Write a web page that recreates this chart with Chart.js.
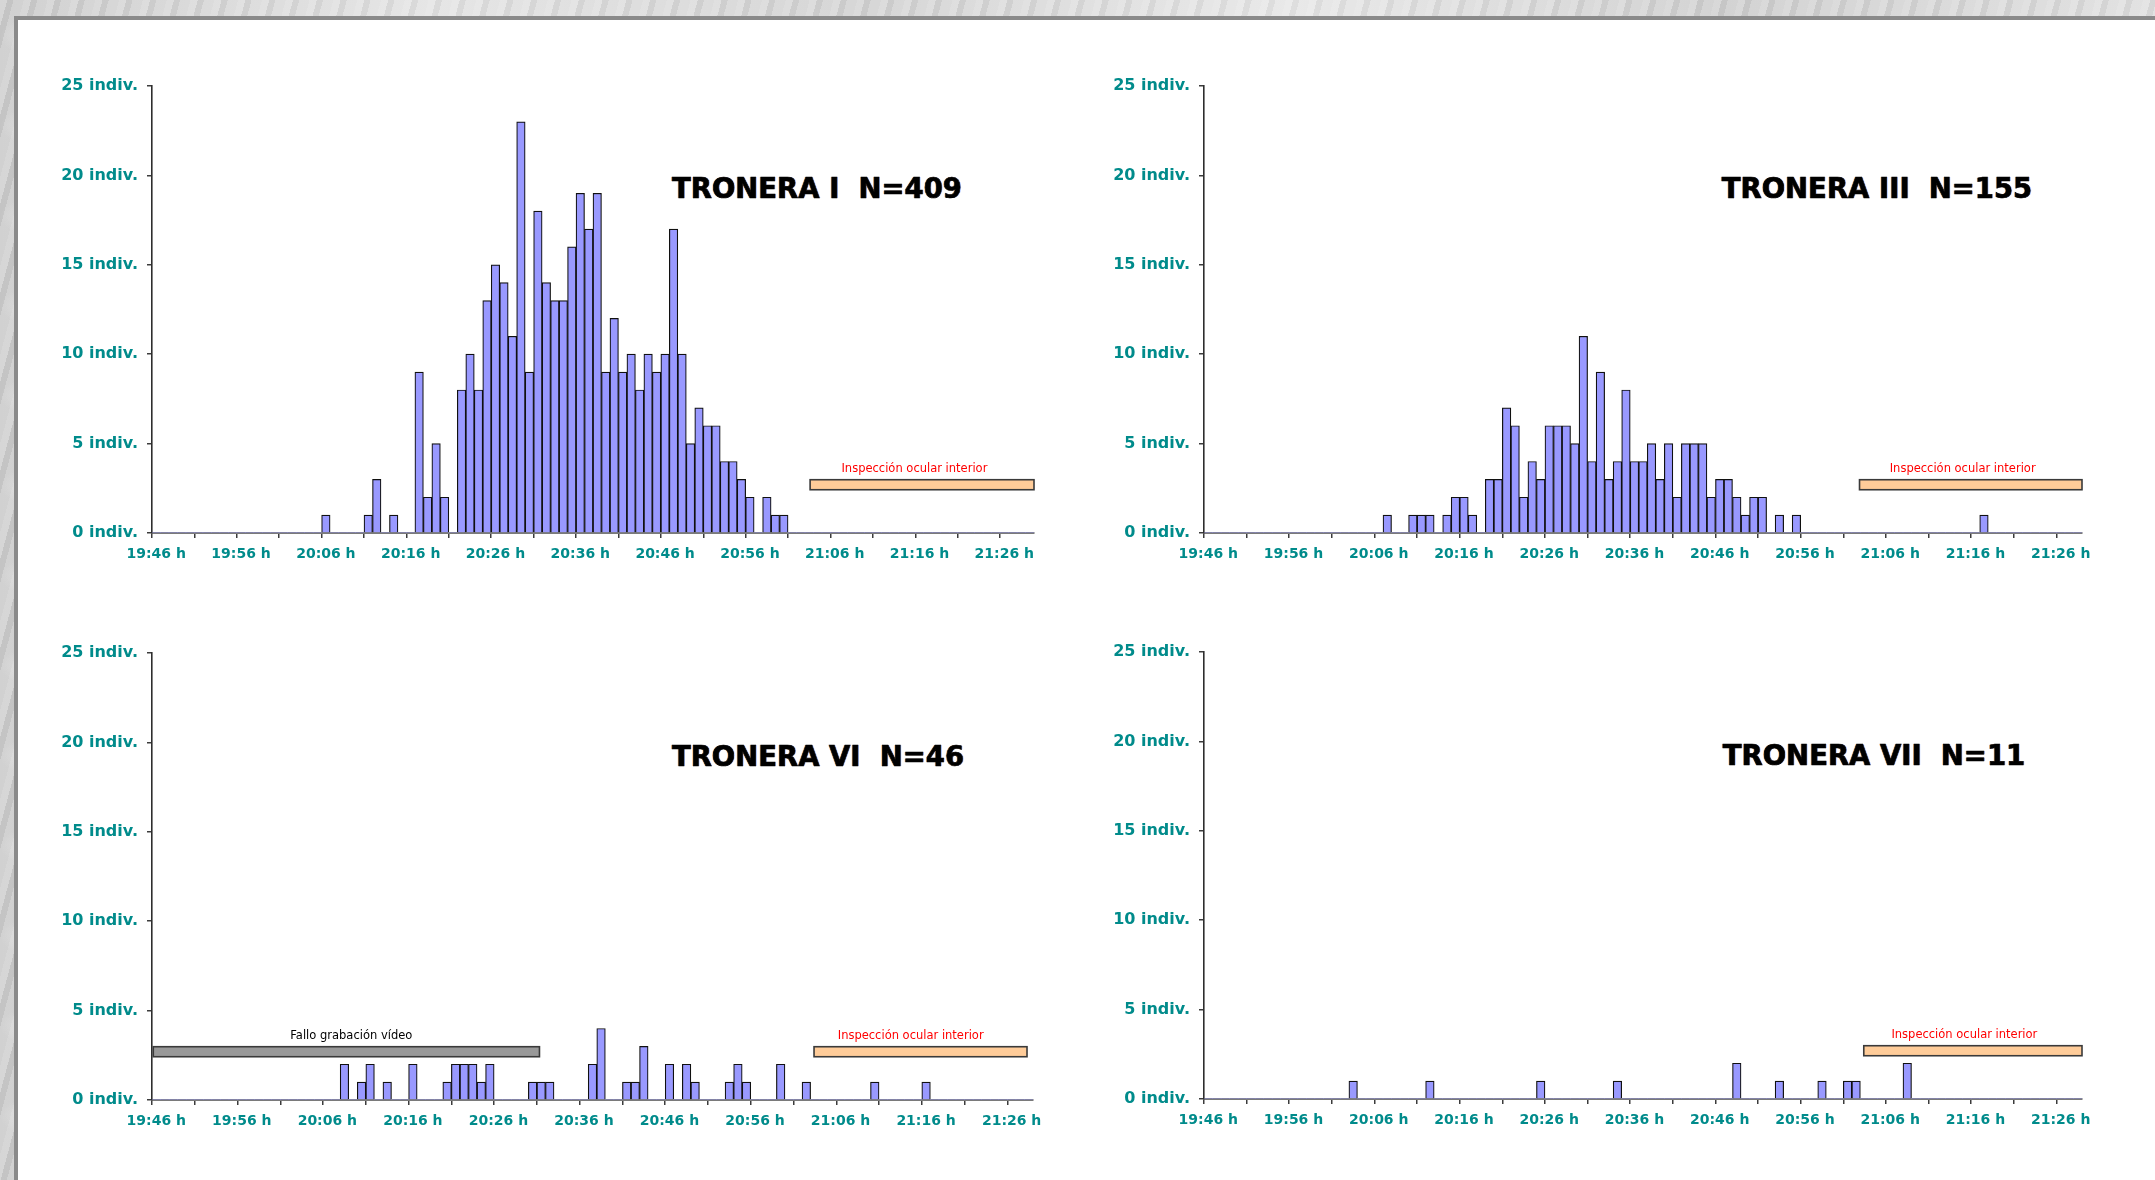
<!DOCTYPE html>
<html>
<head>
<meta charset="utf-8">
<script src="https://cdn.jsdelivr.net/npm/chart.js@4.4.1/dist/chart.umd.min.js"></script>
<style>
  html, body { margin:0; padding:0; width:2155px; height:1180px; overflow:hidden; }
  body {
    background-color:#d6d6d6;
    background-image:
      radial-gradient(ellipse 60px 30px at 30% 40%, rgba(255,255,255,0.45), transparent 70%),
      radial-gradient(ellipse 90px 20px at 70% 60%, rgba(0,0,0,0.07), transparent 70%),
      repeating-linear-gradient(105deg, rgba(255,255,255,0.22) 0 7px, rgba(0,0,0,0.035) 7px 13px, rgba(255,255,255,0.12) 13px 23px),
      linear-gradient(90deg,#cbcbcb,#e2e2e2 20%,#d1d1d1 40%,#e6e6e6 60%,#cdcdcd 80%,#dedede);
    background-size: 140px 90px, 180px 70px, auto, auto;
  }
  #panel { position:absolute; left:14px; top:16px; width:2300px; height:1300px; background:#fff; border:4px solid #8a8a8a; box-sizing:border-box; }
  .box { position:absolute; }
  .title { position:absolute; font-family:'DejaVu Sans'; font-weight:bold; font-size:27.5px; line-height:27.5px;
           color:#000; white-space:pre; transform:translate(-50%,-50%);
           -webkit-text-stroke:0.6px #000;
           text-shadow:-1px 0 0 rgba(255,150,40,0.55), 1px 0 0 rgba(60,120,255,0.45); }
</style>
</head>
<body>
<div id="panel"></div>

<div class="box" style="left:2px;top:66px;"><canvas id="c1" width="1042" height="507"></canvas></div>
<div class="box" style="left:1054px;top:66px;"><canvas id="c2" width="1038" height="507"></canvas></div>
<div class="box" style="left:2px;top:633px;"><canvas id="c3" width="1041" height="507"></canvas></div>
<div class="box" style="left:1054px;top:632px;"><canvas id="c4" width="1038" height="507"></canvas></div>

<div class="title" style="left:817px;top:189px;">TRONERA I  N=409</div>
<div class="title" style="left:1877px;top:189px;">TRONERA III  N=155</div>
<div class="title" style="left:818px;top:757px;">TRONERA VI  N=46</div>
<div class="title" style="left:1874px;top:756px;">TRONERA VII  N=11</div>

<script>
// ---------- DATA (one value per minute, starting 19:46) ----------
const startTime = '19:46';
const yTicks = [0, 5, 10, 15, 20, 25];
const yUnit = ' indiv.';

const troneraI = [
  0,0,0,0,0,0,0,0,0,0,
  0,0,0,0,0,0,0,0,0,0,
  1,0,0,0,0,1,3,0,1,0,
  0,9,2,5,2,0,8,10,8,13,
  15,14,11,23,9,18,14,13,13,16,
  19,17,19,9,12,9,10,8,10,9,
  10,17,10,5,7,6,6,4,4,3,
  2,0,2,1,1,0,0,0,0,0,
  0,0,0,0,0,0,0,0,0,0,
  0,0,0,0,0,0,0,0,0,0,
  0,0,0,0
];
const troneraIII = [
  0,0,0,0,0,0,0,0,0,0,
  0,0,0,0,0,0,0,0,0,0,
  0,1,0,0,1,1,1,0,1,2,
  2,1,0,3,3,7,6,2,4,3,
  6,6,6,5,11,4,9,3,4,8,
  4,4,5,3,5,2,5,5,5,2,
  3,3,2,1,2,2,0,1,0,1,
  0,0,0,0,0,0,0,0,0,0,
  0,0,0,0,0,0,0,0,0,0,
  0,1,0,0,0,0,0,0,0,0,
  0,0,0
];
const troneraVI = [
  0,0,0,0,0,0,0,0,0,0,
  0,0,0,0,0,0,0,0,0,0,
  0,0,2,0,1,2,0,1,0,0,
  2,0,0,0,1,2,2,2,1,2,
  0,0,0,0,1,1,1,0,0,0,
  0,2,4,0,0,1,1,3,0,0,
  2,0,2,1,0,0,0,1,2,1,
  0,0,0,2,0,0,1,0,0,0,
  0,0,0,0,1,0,0,0,0,0,
  1,0,0,0,0,0,0,0,0,0,
  0,0,0
];
const troneraVII = [
  0,0,0,0,0,0,0,0,0,0,
  0,0,0,0,0,0,0,1,0,0,
  0,0,0,0,0,0,1,0,0,0,
  0,0,0,0,0,0,0,0,0,1,
  0,0,0,0,0,0,0,0,1,0,
  0,0,0,0,0,0,0,0,0,0,
  0,0,2,0,0,0,0,1,0,0,
  0,0,1,0,0,1,1,0,0,0,
  0,0,2,0,0,0,0,0,0,0,
  0,0,0,0,0,0,0,0,0,0,
  0,0,0
];

// Bands, in minutes from 19:46 (left edge of the axis) and in individuals
const inspeccionLabel = 'Inspección ocular interior';
const falloLabel = 'Fallo grabación vídeo';
const inspeccionFrom = [77.6, 76.9, 77.4, 77.4];
const inspeccionTo   = [104, 103, 102.3, 103];
const inspeccionTextAt = [89.9, 89.0, 88.7, 89.2];
const falloFrom = 0.15, falloTo = 45.3, falloTextAt = 23.3;
const bandLow = 2.42, bandHigh = 2.98, bandTextY = 3.6;

// ---------- helpers ----------
function timeLabels(n) {
  const [h0, m0] = startTime.split(':').map(Number);
  const out = [];
  for (let k = 0; k < n; k++) {
    const t = h0 * 60 + m0 + k;
    const h = Math.floor(t / 60), m = t % 60;
    out.push(h + ':' + String(m).padStart(2, '0') + ' h');
  }
  return out;
}

const TEAL = '#008b8b';
const FONT = 'DejaVu Sans';

const bandPlugin = {
  id: 'bands',
  afterDatasetsDraw(chart, args, opts) {
    const { ctx } = chart;
    const x = chart.scales.x, y = chart.scales.y;
    (opts.items || []).forEach(b => {
      const x1 = x.getPixelForValue(b.from - 0.5);
      const x2 = x.getPixelForValue(b.to - 0.5);
      const y1 = y.getPixelForValue(b.hi);
      const y2 = y.getPixelForValue(b.lo);
      ctx.save();
      ctx.fillStyle = b.fill;
      ctx.fillRect(x1, y1, x2 - x1, y2 - y1);
      ctx.strokeStyle = '#3a3a3a';
      ctx.lineWidth = 1.6;
      ctx.strokeRect(x1, y1, x2 - x1, y2 - y1);
      ctx.font = '11.5px "' + FONT + '"';
      ctx.fillStyle = b.textColor;
      ctx.textAlign = 'center';
      ctx.textBaseline = 'middle';
      ctx.fillText(b.text, x.getPixelForValue(b.textAt - 0.5), y.getPixelForValue(b.textY));
      ctx.restore();
    });
  }
};

function makeChart(id, values, bands) {
  const labels = timeLabels(values.length);
  return new Chart(document.getElementById(id), {
    type: 'bar',
    data: {
      labels: labels,
      datasets: [{
        data: values,
        backgroundColor: '#9999ff',
        borderColor: '#101010',
        borderWidth: c => (c.raw > 0 ? 1.2 : 0),
        borderSkipped: 'start',
        barPercentage: 1,
        categoryPercentage: 1
      }]
    },
    options: {
      responsive: false,
      devicePixelRatio: 1,
      animation: false,
      events: [],
      layout: { padding: { top: 20, right: 10, left: 0, bottom: 0 } },
      plugins: {
        legend: { display: false },
        title: { display: false },
        tooltip: { enabled: false },
        bands: { items: bands }
      },
      scales: {
        x: {
          type: 'category',
          offset: true,
          afterFit: s => { s.height = 40; s.paddingLeft = 0; s.paddingRight = 0; },
          border: { display: true, color: '#7a7a7a', width: 2 },
          grid: {
            offset: true,
            drawOnChartArea: false,
            drawTicks: true,
            tickLength: 5,
            lineWidth: 1.5,
            color: c => (c.index !== undefined && c.index % 5 === 0 ? '#3c3c3c' : 'rgba(0,0,0,0)'),
            tickColor: c => (c.index !== undefined && c.index % 5 === 0 ? '#3c3c3c' : 'rgba(0,0,0,0)')
          },
          ticks: {
            autoSkip: false,
            maxRotation: 0,
            minRotation: 0,
            padding: 8,
            color: TEAL,
            font: { family: FONT, weight: 'bold', size: 14 },
            callback: (v, i) => (i % 10 === 0 ? labels[i] : '')
          }
        },
        y: {
          min: yTicks[0],
          max: yTicks[yTicks.length - 1],
          afterFit: s => { s.width = 150; s.paddingTop = 0; s.paddingBottom = 0; },
          afterBuildTicks: s => { s.ticks = yTicks.map(v => ({ value: v })); },
          border: { display: true, color: '#2e2e2e', width: 1.6 },
          grid: {
            drawOnChartArea: false,
            drawTicks: true,
            tickLength: 5,
            lineWidth: 1.5,
            color: '#3c3c3c'
          },
          ticks: {
            padding: 9,
            color: TEAL,
            font: { family: FONT, weight: 'bold', size: 16 },
            callback: v => v + yUnit
          }
        }
      }
    },
    plugins: [bandPlugin]
  });
}

function inspeccion(i) {
  return { from: inspeccionFrom[i], to: inspeccionTo[i], lo: bandLow, hi: bandHigh,
           fill: '#ffcc99', text: inspeccionLabel, textColor: '#ff0000',
           textAt: inspeccionTextAt[i], textY: bandTextY };
}

makeChart('c1', troneraI, [inspeccion(0)]);
makeChart('c2', troneraIII, [inspeccion(1)]);
makeChart('c3', troneraVI, [
  { from: falloFrom, to: falloTo, lo: bandLow, hi: bandHigh, fill: '#999999',
    text: falloLabel, textColor: '#000000', textAt: falloTextAt, textY: bandTextY },
  inspeccion(2)
]);
makeChart('c4', troneraVII, [inspeccion(3)]);
</script>
</body>
</html>
